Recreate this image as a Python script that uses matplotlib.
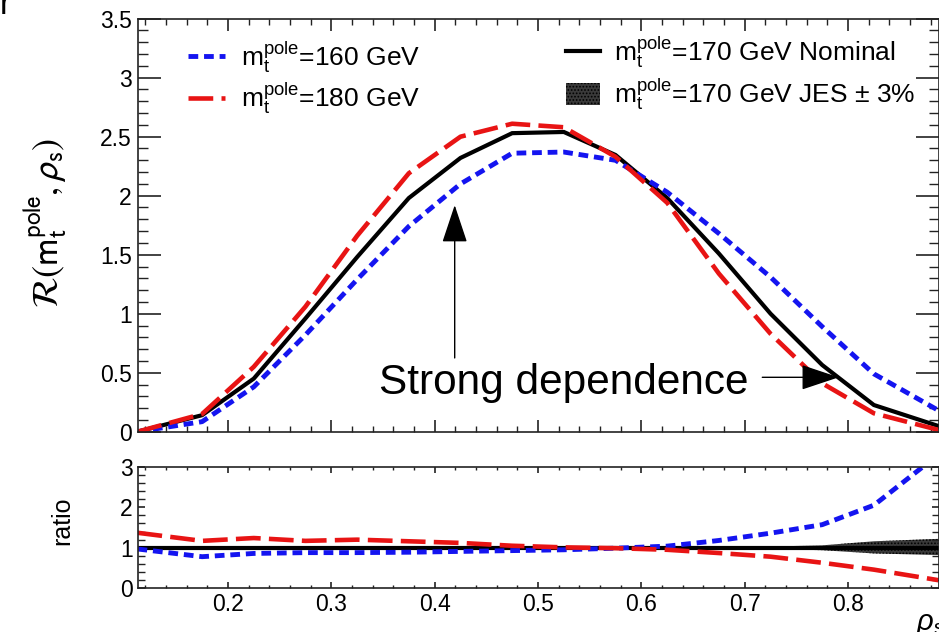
import matplotlib
matplotlib.use("Agg")
import matplotlib.pyplot as plt
import matplotlib.patches as mpatches
from matplotlib.lines import Line2D
from matplotlib.ticker import MultipleLocator, FuncFormatter

plt.rcParams['font.family'] = ['Liberation Sans', 'DejaVu Sans']
plt.rcParams['mathtext.fontset'] = 'custom'
plt.rcParams['mathtext.rm'] = 'Liberation Sans'
plt.rcParams['mathtext.it'] = 'Liberation Sans:italic'
plt.rcParams['mathtext.bf'] = 'Liberation Sans:bold'
plt.rcParams['mathtext.sf'] = 'Liberation Sans'
plt.rcParams['hatch.linewidth'] = 0.8

# ---------------- data ----------------
rho = [0.1125, 0.175, 0.225, 0.275, 0.325, 0.375, 0.425, 0.475,
       0.525, 0.575, 0.625, 0.675, 0.725, 0.775, 0.825, 0.8875]

R_nominal_170 = [0.0, 0.14, 0.45, 0.96, 1.48, 1.98, 2.32, 2.53,
                 2.54, 2.345, 1.98, 1.51, 1.00, 0.565, 0.226, 0.048]
R_160 = [0.0, 0.085, 0.38, 0.82, 1.29, 1.74, 2.10, 2.36,
         2.37, 2.30, 2.03, 1.68, 1.31, 0.89, 0.49, 0.18]
R_180 = [0.0, 0.15, 0.55, 1.06, 1.66, 2.19, 2.50, 2.61,
         2.58, 2.33, 1.94, 1.34, 0.83, 0.41, 0.156, 0.015]

ratio_nominal = [1.0] * 16
ratio_160 = [0.97, 0.78, 0.86, 0.88, 0.88, 0.89, 0.91, 0.93,
             0.95, 0.99, 1.04, 1.18, 1.36, 1.57, 2.05, 3.3]
ratio_180 = [1.37, 1.17, 1.24, 1.17, 1.20, 1.16, 1.12, 1.05,
             1.01, 0.99, 0.95, 0.87, 0.78, 0.63, 0.46, 0.20]
jes_up = [1.015, 1.015, 1.015, 1.015, 1.015, 1.015, 1.015, 1.015,
          1.015, 1.015, 1.015, 1.02, 1.03, 1.06, 1.16, 1.22]
jes_lo = [0.985, 0.985, 0.985, 0.985, 0.985, 0.985, 0.985, 0.985,
          0.985, 0.985, 0.985, 0.98, 0.97, 0.94, 0.86, 0.82]

labels = [r'm$_\mathrm{t}^\mathrm{pole}$=160 GeV',
          r'm$_\mathrm{t}^\mathrm{pole}$=180 GeV',
          r'm$_\mathrm{t}^\mathrm{pole}$=170 GeV Nominal',
          r'm$_\mathrm{t}^\mathrm{pole}$=170 GeV JES $\pm$ 3%']
annot_text = 'Strong dependence'

BLUE = '#1414f0'
RED = '#e81414'
BLACK = '#000000'
blue_ls = (0, (2.0, 1.2))
red_ls = (0, (5.4, 1.8))

# ---------------- figure ----------------
W, H = 939, 632
fig = plt.figure(figsize=(W / 100, H / 100), dpi=100)
L, Rr = 137.5, 938.5
ax1 = fig.add_axes([L / W, 1 - 431.7 / H, (Rr - L) / W, (431.7 - 18.7) / H])
ax2 = fig.add_axes([L / W, 1 - 588.3 / H, (Rr - L) / W, (588.3 - 466.7) / H])

# upper panel
ax1.plot(rho, R_nominal_170, color=BLACK, lw=3.0, solid_joinstyle='miter')
ax1.plot(rho, R_160, color=BLUE, lw=3.5, ls=blue_ls, dash_capstyle='butt')
ax1.plot(rho, R_180, color=RED, lw=3.3, ls=red_ls, dash_capstyle='butt')

ax1.set_xlim(0.1125, 0.8875)
ax1.set_ylim(0, 3.5)
ax1.xaxis.set_major_locator(MultipleLocator(0.1))
ax1.xaxis.set_minor_locator(MultipleLocator(0.02))
ax1.yaxis.set_major_locator(MultipleLocator(0.5))
ax1.yaxis.set_minor_locator(MultipleLocator(0.1))
ax1.yaxis.set_major_formatter(FuncFormatter(lambda v, p: '%g' % v))
ax1.tick_params(which='both', direction='in', top=True, right=True,
                labelbottom=False, labelsize=16.5, color='#222222')
ax1.tick_params(axis='y', which='major', length=16.5, width=1.2, pad=4)
ax1.tick_params(axis='y', which='minor', length=7.2, width=1.0)
ax1.tick_params(axis='x', which='major', length=8.6, width=1.2)
ax1.tick_params(axis='x', which='minor', length=4.3, width=1.0)

# legends
h_blue = Line2D([], [], color=BLUE, lw=3.5, ls=blue_ls, dash_capstyle='butt')
h_red = Line2D([], [], color=RED, lw=3.3, ls=red_ls, dash_capstyle='butt')
h_black = Line2D([], [], color=BLACK, lw=3.0)
h_jes = mpatches.Patch(facecolor='#3a3a3a', edgecolor='#000000', hatch='.....', lw=0)

leg1 = ax1.legend([h_blue, h_red], labels[:2], loc='upper left',
                  bbox_to_anchor=((188 - L) / (Rr - L), 0.952), frameon=False,
                  fontsize=19, handlelength=1.4, handletextpad=0.6,
                  labelspacing=0.22, borderpad=0, borderaxespad=0)
ax1.add_artist(leg1)
leg2 = ax1.legend([h_black, h_jes], labels[2:], loc='upper left',
                  bbox_to_anchor=((566 - L) / (Rr - L), 0.962), frameon=False,
                  fontsize=19, handlelength=1.3, handletextpad=0.5,
                  handleheight=0.9, labelspacing=0.2, borderpad=0, borderaxespad=0)

# annotations
arrow_style = '-|>,head_length=2.4,head_width=0.8'
ax1.annotate('', xy=(0.4194, 1.92), xytext=(0.4194, 0.625),
             arrowprops=dict(arrowstyle=arrow_style, lw=1.0, color='black',
                             mutation_scale=10, shrinkA=0, shrinkB=0))
ax1.annotate('', xy=(0.791, 0.461), xytext=(0.717, 0.461),
             arrowprops=dict(arrowstyle=arrow_style, lw=1.0, color='black',
                             mutation_scale=10, shrinkA=0, shrinkB=0))
ax1.text(0.3458, 0.32, annot_text, fontsize=30.5, va='baseline', ha='left')

# lower panel
ax2.fill_between(rho, jes_lo, jes_up, facecolor='#3a3a3a', edgecolor='#000000',
                 hatch='.....', lw=0)
ax2.plot(rho, ratio_nominal, color=BLACK, lw=3.0)
ax2.plot(rho, ratio_160, color=BLUE, lw=3.5, ls=blue_ls, dash_capstyle='butt')
ax2.plot(rho, ratio_180, color=RED, lw=3.3, ls=red_ls, dash_capstyle='butt')

ax2.set_xlim(0.1125, 0.8875)
ax2.set_ylim(0, 3)
ax2.xaxis.set_major_locator(MultipleLocator(0.1))
ax2.xaxis.set_minor_locator(MultipleLocator(0.02))
ax2.yaxis.set_major_locator(MultipleLocator(1))
ax2.yaxis.set_minor_locator(MultipleLocator(0.2))
ax2.yaxis.set_major_formatter(FuncFormatter(lambda v, p: '%g' % v))
ax2.xaxis.set_major_formatter(FuncFormatter(lambda v, p: '%g' % round(v, 2)))
ax2.tick_params(which='both', direction='in', top=True, right=True,
                labelsize=16.5, color='#222222')
ax2.tick_params(axis='y', which='major', length=5, width=1.2, pad=3.5)
ax2.tick_params(axis='y', which='minor', length=5, width=1.0)
ax2.tick_params(axis='x', which='major', length=4, width=1.2, pad=3.5)
ax2.tick_params(axis='x', which='minor', length=2, width=1.0)

for ax in (ax1, ax2):
    for s in ax.spines.values():
        s.set_linewidth(1.2)
        s.set_color('#222222')

# axis titles
fig.text(45 / W, 1 - 223 / H,
         r'$\mathcal{R}(\mathrm{m}_\mathrm{t}^\mathrm{pole},\rho_\mathrm{s})$',
         rotation=90, ha='center', va='center', fontsize=26,
         math_fontfamily='stixsans')
fig.text(62 / W, 1 - 521 / H, 'ratio', rotation=90, ha='center', va='center',
         fontsize=18)
fig.text(916 / W, 1 - 630 / H, r'$\rho_\mathrm{s}$', ha='left', va='baseline',
         fontsize=21)
fig.text(0 / W, 1 - 14 / H, 'r', ha='left', va='baseline', fontsize=24)

fig.savefig('out.png', dpi=100)
